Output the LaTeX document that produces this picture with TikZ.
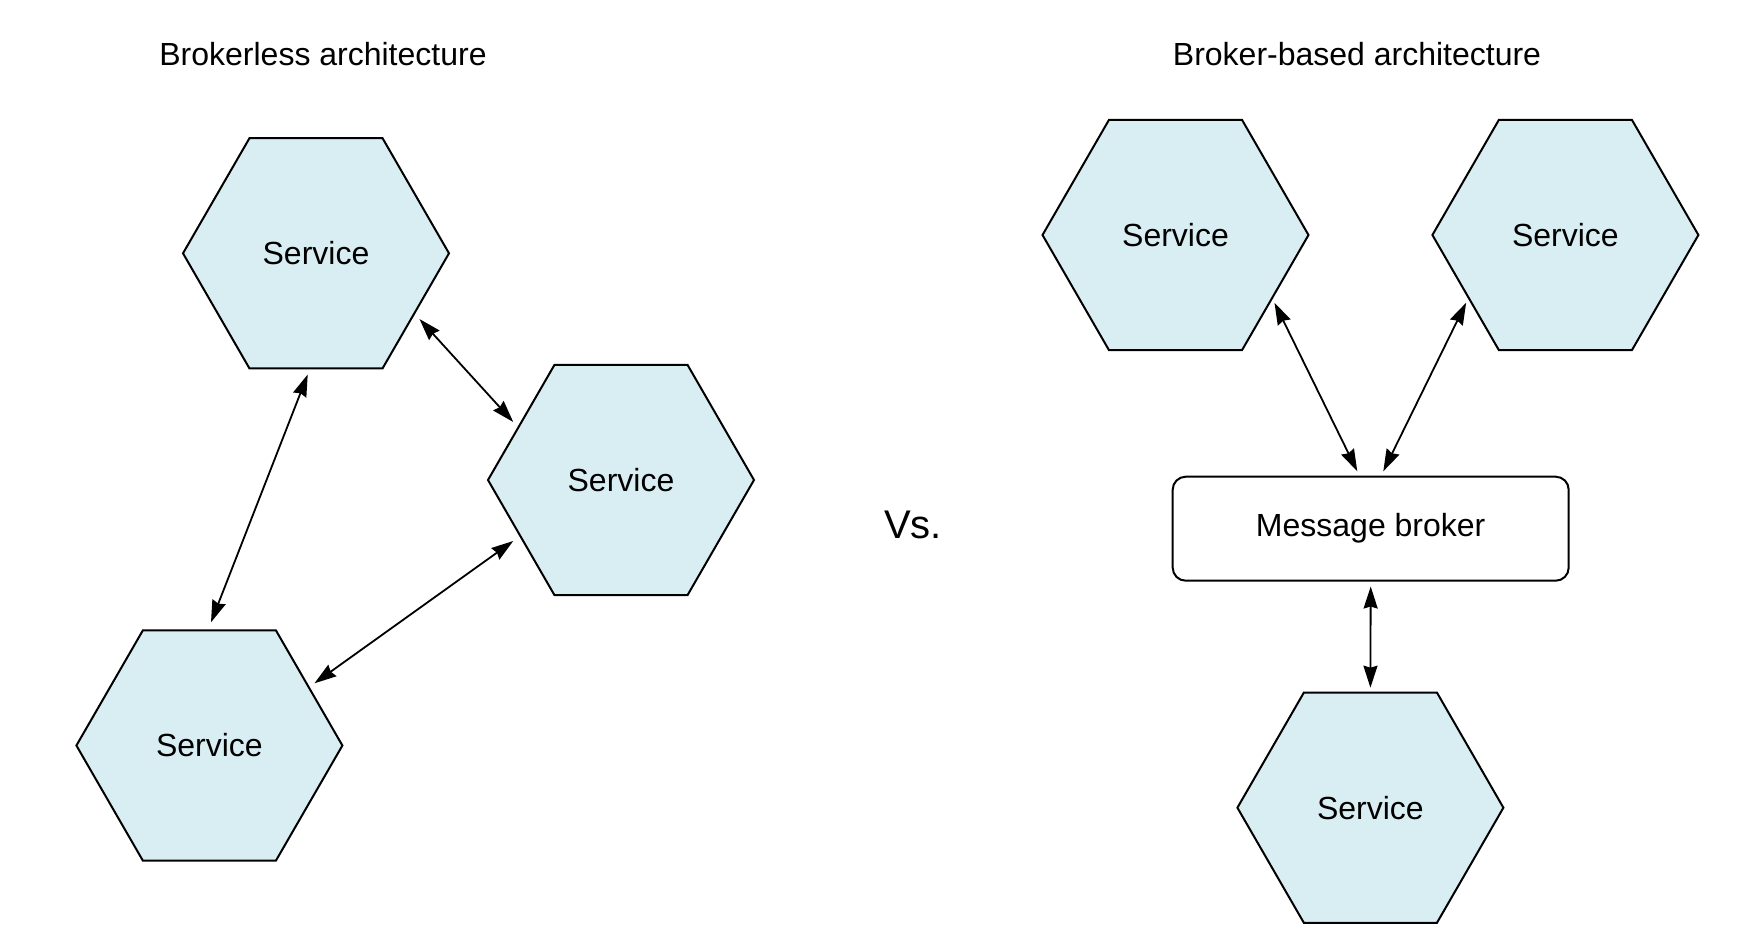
\documentclass[tikz,border=0pt]{standalone}
\usepackage{fontspec}
\setmainfont{Liberation Sans}
\usetikzlibrary{shapes.geometric,arrows.meta}
\definecolor{hexfill}{HTML}{D9EEF3}
\tikzset{
  service/.style = {regular polygon, regular polygon sides = 6,
    minimum size = 133pt, inner sep = 0pt, draw, line width = 1pt,
    fill = hexfill, font = \fontsize{16}{19}\selectfont},
  broker/.style = {draw, rounded corners = 6.5pt, line width = 1pt,
    minimum width = 198pt, minimum height = 52pt,
    font = \fontsize{16}{19}\selectfont},
  link/.style = {{Stealth[length = 11pt, width = 7pt, inset = 1pt]}-{Stealth[length = 11pt, width = 7pt, inset = 1pt]},
    line width = 0.9pt},
  heading/.style = {font = \fontsize{16}{19}\selectfont}
}
\begin{document}
\begin{tikzpicture}[x = 0.5pt, y = -0.5pt]
  \useasboundingbox (0, 0) rectangle (1742, 938);
  % draw headings
  \node[heading] (lefttitle) at (323, 54) {Brokerless architecture};
  \node[heading] (righttitle) at (1357, 54) {Broker-based architecture};
  \node[font = \fontsize{20}{24}\selectfont] (vs) at (913, 525) {Vs.};
  % draw brokerless services
  \node[service] (s1) at (316, 253.3) {Service};
  \node[service] (s2) at (621, 480) {Service};
  \node[service] (s3) at (209.4, 745.5) {Service};
  % draw brokerless links
  \draw[link] ([shift = {(-8.3, 5)}]s1.south) -- ([shift = {(1.6, -7)}]s3.north);
  \draw[link] ([shift = {(-30.7, 65.7)}]s1.east) -- ([shift = {(26.4, -58)}]s2.west);
  \draw[link] ([shift = {(-29.1, -62.2)}]s3.east) -- ([shift = {(26.4, 61)}]s2.west);
  % draw broker-based services
  \node[service] (b1) at (1175.5, 235) {Service};
  \node[service] (b2) at (1565.4, 235) {Service};
  \node[service] (b3) at (1370.4, 807.7) {Service};
  \node[broker] (mb) at (1370.7, 528.7) {Message broker};
  % draw broker links
  \draw[link] ([shift = {(-35.2, 67.7)}]b1.east) -- ([shift = {(-13.4, -4.4)}]mb.north);
  \draw[link] ([shift = {(34.9, 67.7)}]b2.west) -- ([shift = {(12.6, -4.4)}]mb.north);
  \draw[link] ([shift = {(0, 4.8)}]mb.south) -- ([shift = {(0, -3.8)}]b3.north);
\end{tikzpicture}
\end{document}
